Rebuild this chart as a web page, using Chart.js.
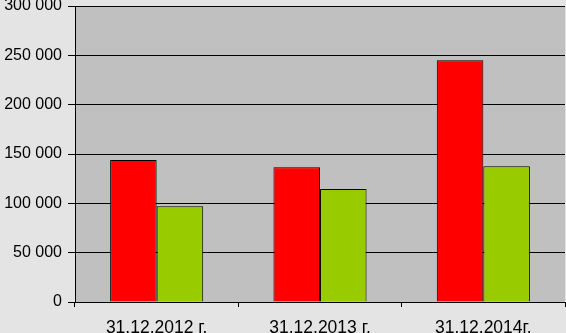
<!DOCTYPE html>
<html lang="ru">
<head>
<meta charset="UTF-8">
<title>Chart</title>
<script src="https://cdn.jsdelivr.net/npm/chart.js"></script>
<style>
  html, body { margin: 0; padding: 0; background: #e4e4e4; }
  #wrap { width: 566px; height: 333px; }
</style>
</head>
<body>
<div id="wrap"><canvas id="chart"></canvas></div>
<script>
  const categories = ["31.12.2012 г.", "31.12.2013 г.", "31.12.2014г."];
  const redValues = [144000, 136500, 245000];
  const greenValues = [97000, 114500, 137500];

  const plotBg = {
    id: "plotBg",
    beforeDraw(chart) {
      const { ctx, chartArea: a } = chart;
      ctx.save();
      ctx.fillStyle = "#e4e4e4";
      ctx.fillRect(0, 0, chart.width, chart.height);
      ctx.fillStyle = "#c0c0c0";
      ctx.fillRect(a.left, a.top, a.right - a.left, a.bottom - a.top);
      ctx.restore();
    }
  };

  const fmt = v => v === 0 ? "0" : String(v).replace(/\B(?=(\d{3})+(?!\d))/g, " ");

  new Chart(document.getElementById("chart"), {
    type: "bar",
    data: {
      labels: categories,
      datasets: [
        { data: redValues, backgroundColor: "#ff0000", borderColor: "#000", borderWidth: 1 },
        { data: greenValues, backgroundColor: "#99cc00", borderColor: "#000", borderWidth: 1 }
      ]
    },
    options: {
      responsive: true,
      maintainAspectRatio: false,
      animation: false,
      layout: { padding: { top: 6, right: 1, left: 0, bottom: 0 } },
      plugins: { legend: { display: false }, tooltip: { enabled: false } },
      datasets: { bar: { categoryPercentage: 0.57, barPercentage: 1 } },
      scales: {
        x: {
          grid: { offset: true, drawOnChartArea: false, color: "#000", tickLength: 5 },
          border: { color: "#000" },
          ticks: { color: "#000", font: { family: "Liberation Sans, Arial", size: 17.5 }, padding: 11, maxRotation: 0 },
          afterFit(s) { s.height = 31; s.paddingLeft = 0; s.paddingRight = 0; }
        },
        y: {
          min: 0, max: 300000,
          grid: { color: "#000", tickLength: 7 },
          border: { color: "#000" },
          ticks: { stepSize: 50000, color: "#000", font: { family: "Liberation Sans, Arial", size: 16 }, padding: 6, callback: fmt },
          afterFit(s) { s.width = 75; s.paddingTop = 0; s.paddingBottom = 0; }
        }
      }
    },
    plugins: [plotBg]
  });
</script>
</body>
</html>
